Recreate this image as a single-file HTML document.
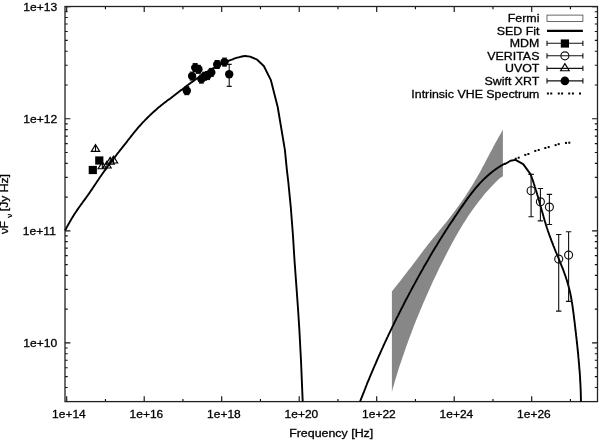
<!DOCTYPE html>
<html><head><meta charset="utf-8"><title>SED</title>
<style>html,body{margin:0;padding:0;background:#fff}svg{display:block}text{font-family:"Liberation Sans",sans-serif;fill:#000}</style></head><body>
<svg width="600" height="440" viewBox="0 0 600 440">
<rect width="600" height="440" fill="#fff"/>
<polygon points="391.9,291.4 393.4,289.4 395.0,287.5 396.6,285.6 398.1,283.6 399.7,281.7 401.2,279.7 402.7,277.8 404.2,275.8 405.8,273.8 407.3,271.8 408.8,269.8 410.3,267.9 411.8,265.9 413.3,263.9 414.8,261.9 416.3,259.9 417.8,257.9 419.3,255.9 420.8,254.0 422.3,252.0 423.8,250.0 425.3,248.0 426.9,246.1 428.4,244.1 429.9,242.2 431.5,240.2 433.1,238.3 434.6,236.4 436.2,234.4 437.8,232.5 439.4,230.6 440.9,228.7 442.5,226.7 444.1,224.8 445.6,222.9 447.2,221.0 448.7,219.0 450.3,217.1 451.8,215.1 453.3,213.1 454.8,211.1 456.3,209.1 457.7,207.1 459.2,205.1 460.6,203.1 462.0,201.1 463.4,199.0 464.8,197.0 466.2,194.9 467.5,192.8 468.9,190.7 470.2,188.6 471.5,186.5 472.8,184.4 474.1,182.3 475.3,180.1 476.6,178.0 477.8,175.8 479.0,173.7 480.3,171.5 481.5,169.3 482.6,167.1 483.8,164.9 485.0,162.7 486.1,160.5 487.3,158.3 488.5,156.1 489.6,153.8 490.8,151.6 492.0,149.4 493.1,147.2 494.3,145.0 495.5,142.8 496.7,140.7 497.9,138.5 499.1,136.3 500.4,134.2 501.6,132.0 502.9,129.9 502.9,176.2 500.1,177.9 497.9,180.1 495.6,182.3 493.5,184.5 491.3,186.7 489.2,189.0 487.1,191.3 485.1,193.6 483.1,196.0 481.2,198.4 479.3,200.8 477.4,203.3 475.5,205.7 473.7,208.2 471.9,210.7 470.2,213.3 468.4,215.8 466.7,218.4 465.1,221.0 463.4,223.6 461.8,226.3 460.2,228.9 458.6,231.6 457.1,234.3 455.5,237.0 454.0,239.7 452.5,242.4 451.1,245.1 449.6,247.9 448.2,250.6 446.7,253.4 445.3,256.2 443.9,258.9 442.5,261.7 441.1,264.5 439.7,267.3 438.4,270.1 437.0,272.9 435.7,275.7 434.4,278.5 433.0,281.3 431.7,284.2 430.4,287.0 429.2,289.8 427.9,292.7 426.6,295.5 425.4,298.4 424.1,301.2 422.9,304.1 421.7,306.9 420.5,309.8 419.3,312.7 418.1,315.6 416.9,318.4 415.8,321.3 414.6,324.2 413.5,327.1 412.4,330.0 411.3,332.9 410.2,335.8 409.1,338.7 408.0,341.7 407.0,344.6 405.9,347.5 404.9,350.4 403.9,353.4 402.9,356.3 401.9,359.2 400.9,362.2 399.9,365.1 398.9,368.1 398.0,371.0 397.1,374.0 396.2,377.0 395.2,379.9 394.4,382.9 393.5,385.9 392.6,388.8 391.9,392.6" fill="#878787"/>
<path d="M66.70 401.6v-5.4M66.70 6.5v5.4M105.45 401.6v-2.7M105.45 6.5v2.7M144.20 401.6v-5.4M144.20 6.5v5.4M182.95 401.6v-2.7M182.95 6.5v2.7M221.70 401.6v-5.4M221.70 6.5v5.4M260.45 401.6v-2.7M260.45 6.5v2.7M299.20 401.6v-5.4M299.20 6.5v5.4M337.95 401.6v-2.7M337.95 6.5v2.7M376.70 401.6v-5.4M376.70 6.5v5.4M415.45 401.6v-2.7M415.45 6.5v2.7M454.20 401.6v-5.4M454.20 6.5v5.4M492.95 401.6v-2.7M492.95 6.5v2.7M531.70 401.6v-5.4M531.70 6.5v5.4M570.45 401.6v-2.7M570.45 6.5v2.7M65.0 401.51h2.7M597.5 401.51h-2.7M65.0 387.51h2.7M597.5 387.51h-2.7M65.0 376.65h2.7M597.5 376.65h-2.7M65.0 367.77h2.7M597.5 367.77h-2.7M65.0 360.26h2.7M597.5 360.26h-2.7M65.0 353.76h2.7M597.5 353.76h-2.7M65.0 348.03h2.7M597.5 348.03h-2.7M65.0 342.90h5.4M597.5 342.90h-5.4M65.0 309.15h2.7M597.5 309.15h-2.7M65.0 289.41h2.7M597.5 289.41h-2.7M65.0 275.41h2.7M597.5 275.41h-2.7M65.0 264.55h2.7M597.5 264.55h-2.7M65.0 255.67h2.7M597.5 255.67h-2.7M65.0 248.16h2.7M597.5 248.16h-2.7M65.0 241.66h2.7M597.5 241.66h-2.7M65.0 235.93h2.7M597.5 235.93h-2.7M65.0 230.80h5.4M597.5 230.80h-5.4M65.0 197.05h2.7M597.5 197.05h-2.7M65.0 177.31h2.7M597.5 177.31h-2.7M65.0 163.31h2.7M597.5 163.31h-2.7M65.0 152.45h2.7M597.5 152.45h-2.7M65.0 143.57h2.7M597.5 143.57h-2.7M65.0 136.06h2.7M597.5 136.06h-2.7M65.0 129.56h2.7M597.5 129.56h-2.7M65.0 123.83h2.7M597.5 123.83h-2.7M65.0 118.70h5.4M597.5 118.70h-5.4M65.0 84.95h2.7M597.5 84.95h-2.7M65.0 65.21h2.7M597.5 65.21h-2.7M65.0 51.21h2.7M597.5 51.21h-2.7M65.0 40.35h2.7M597.5 40.35h-2.7M65.0 31.47h2.7M597.5 31.47h-2.7M65.0 23.96h2.7M597.5 23.96h-2.7M65.0 17.46h2.7M597.5 17.46h-2.7M65.0 11.73h2.7M597.5 11.73h-2.7M65.0 6.60h5.4M597.5 6.60h-5.4" stroke="#111" stroke-width="1.15" fill="none"/>
<rect x="65.0" y="6.5" width="532.5" height="395.1" fill="none" stroke="#222" stroke-width="1.3"/>
<text transform="translate(57.2,347.0) scale(1.07,1)" font-size="11.3" text-anchor="end" stroke="#000" stroke-width="0.3">1e+10</text>
<text transform="translate(55.9,234.9) scale(1.07,1)" font-size="11.3" text-anchor="end" stroke="#000" stroke-width="0.3">1e+11</text>
<text transform="translate(57.2,122.8) scale(1.07,1)" font-size="11.3" text-anchor="end" stroke="#000" stroke-width="0.3">1e+12</text>
<text transform="translate(57.2,10.7) scale(1.07,1)" font-size="11.3" text-anchor="end" stroke="#000" stroke-width="0.3">1e+13</text>
<text transform="translate(68.9,418.1) scale(1.06,1)" font-size="11.3" text-anchor="middle" stroke="#000" stroke-width="0.3">1e+14</text>
<text transform="translate(146.4,418.1) scale(1.06,1)" font-size="11.3" text-anchor="middle" stroke="#000" stroke-width="0.3">1e+16</text>
<text transform="translate(223.9,418.1) scale(1.06,1)" font-size="11.3" text-anchor="middle" stroke="#000" stroke-width="0.3">1e+18</text>
<text transform="translate(301.4,418.1) scale(1.06,1)" font-size="11.3" text-anchor="middle" stroke="#000" stroke-width="0.3">1e+20</text>
<text transform="translate(378.9,418.1) scale(1.06,1)" font-size="11.3" text-anchor="middle" stroke="#000" stroke-width="0.3">1e+22</text>
<text transform="translate(456.4,418.1) scale(1.06,1)" font-size="11.3" text-anchor="middle" stroke="#000" stroke-width="0.3">1e+24</text>
<text transform="translate(533.9,418.1) scale(1.06,1)" font-size="11.3" text-anchor="middle" stroke="#000" stroke-width="0.3">1e+26</text>
<text transform="translate(331.2,437.2) scale(1.1,1)" font-size="11.3" text-anchor="middle" stroke="#000" stroke-width="0.3">Frequency [Hz]</text>
<text transform="translate(8.2,234.0) rotate(-90) scale(1.15,1)" font-size="10.2" stroke="#000" stroke-width="0.3">νF</text>
<text transform="translate(11.5,217.8) rotate(-90) scale(1.1,1)" font-size="7.2" stroke="#000" stroke-width="0.3">ν</text>
<text transform="translate(8.2,211.2) rotate(-90) scale(1.19,1)" font-size="10.2" stroke="#000" stroke-width="0.3">[Jy Hz]</text>
<path d="M65.1 230.4L65.9 229.0L66.6 227.6L67.4 226.1L68.2 224.7L69.0 223.3L69.8 221.9L70.6 220.5L71.4 219.1L72.2 217.7L73.1 216.4L73.9 215.0L74.8 213.6L75.7 212.3L76.6 210.9L77.5 209.6L78.4 208.3L79.3 207.0L80.3 205.7L81.2 204.3L82.2 203.0L83.1 201.7L84.1 200.4L85.0 199.1L86.0 197.8L86.9 196.5L87.9 195.2L88.8 193.9L89.7 192.6L90.6 191.2L91.5 189.9L92.4 188.6L93.3 187.2L94.2 185.9L95.1 184.5L96.0 183.2L96.9 181.8L97.8 180.5L98.7 179.2L99.6 177.8L100.5 176.5L101.4 175.2L102.4 173.8L103.3 172.5L104.2 171.2L105.2 169.9L106.1 168.6L107.1 167.3L108.0 166.0L109.0 164.7L110.0 163.4L110.9 162.2L111.9 160.9L112.9 159.6L113.9 158.3L114.9 157.1L115.8 155.8L116.8 154.5L117.8 153.2L118.8 152.0L119.8 150.7L120.8 149.4L121.8 148.2L122.8 146.9L123.8 145.6L124.8 144.3L125.8 143.1L126.8 141.8L127.8 140.5L128.8 139.2L129.8 138.0L130.8 136.7L131.8 135.4L132.8 134.2L133.8 132.9L134.8 131.7L135.9 130.4L136.9 129.2L137.9 127.9L139.0 126.7L140.1 125.5L141.1 124.3L142.2 123.1L143.3 121.9L144.4 120.8L145.5 119.6L146.7 118.5L147.8 117.3L149.0 116.2L150.1 115.1L151.3 114.0L152.5 112.9L153.7 111.8L154.9 110.7L156.1 109.7L157.3 108.6L158.5 107.6L159.8 106.6L161.0 105.5L162.3 104.5L163.5 103.5L164.8 102.5L166.1 101.6L167.4 100.6L168.7 99.6L170.0 98.7L171.3 97.7L172.5 96.7L173.8 95.8L175.1 94.8L176.4 93.8L177.7 92.8L179.0 91.8L180.2 90.8L181.5 89.9L182.8 88.9L184.1 87.9L185.4 86.9L186.6 85.9L187.9 85.0L189.2 84.0L190.5 83.1L191.8 82.1L193.2 81.2L194.5 80.2L195.8 79.3L197.1 78.4L198.5 77.5L199.8 76.6L201.1 75.7L202.5 74.8L203.9 73.9L205.2 73.1L206.6 72.2L208.0 71.4L209.4 70.6L210.7 69.7L212.1 68.9L213.6 68.1L215.0 67.4L216.4 66.6L217.8 65.9L219.3 65.1L220.7 64.4L222.2 63.7L223.6 63.0L225.1 62.3L226.6 61.7L228.1 61.1L229.6 60.4L231.1 59.8L232.6 59.3L234.1 58.7L235.6 58.2L237.2 57.7L238.7 57.3L240.3 56.9L241.8 56.5L243.4 56.2L245.0 55.9L245.0 56.0L250.1 56.6L256.9 59.5L263.8 66.0L270.9 80.2L277.7 107.0L284.9 149.8L286.8 169.1L288.3 182.0L290.8 207.3L292.9 234.5L294.6 261.8L296.6 289.1L298.1 310.0L299.3 328.6L301.0 360.5L302.7 401.6M360.1 401.5L360.7 399.9L361.4 398.2L362.0 396.6L362.7 394.9L363.3 393.3L364.0 391.6L364.6 390.0L365.3 388.3L365.9 386.7L366.6 385.0L367.2 383.4L367.9 381.7L368.6 380.1L369.3 378.5L369.9 376.8L370.6 375.2L371.3 373.6L372.0 371.9L372.7 370.3L373.4 368.7L374.1 367.0L374.8 365.4L375.5 363.8L376.2 362.1L376.9 360.5L377.6 358.9L378.3 357.3L379.0 355.6L379.8 354.0L380.5 352.4L381.2 350.8L381.9 349.2L382.7 347.6L383.4 345.9L384.1 344.3L384.9 342.7L385.6 341.1L386.4 339.5L387.1 337.9L387.9 336.3L388.6 334.7L389.4 333.1L390.2 331.5L390.9 329.9L391.7 328.3L392.5 326.7L393.3 325.1L394.0 323.5L394.8 321.9L395.6 320.3L396.4 318.7L397.2 317.1L398.0 315.6L398.8 314.0L399.6 312.4L400.4 310.8L401.2 309.2L402.0 307.6L402.8 306.1L403.6 304.5L404.4 302.9L405.2 301.3L406.0 299.8L406.9 298.2L407.7 296.6L408.5 295.1L409.3 293.5L410.2 291.9L411.0 290.4L411.8 288.8L412.7 287.2L413.5 285.7L414.4 284.1L415.2 282.6L416.1 281.0L416.9 279.5L417.8 277.9L418.6 276.4L419.5 274.8L420.4 273.3L421.2 271.7L422.1 270.2L423.0 268.6L423.8 267.1L424.7 265.6L425.6 264.0L426.5 262.5L427.4 260.9L428.3 259.4L429.1 257.9L430.0 256.4L430.9 254.8L431.8 253.3L432.7 251.8L433.6 250.3L434.5 248.7L435.4 247.2L436.4 245.7L437.3 244.2L438.2 242.7L439.1 241.2L440.0 239.7L441.0 238.2L441.9 236.7L442.9 235.2L443.8 233.7L444.8 232.2L445.7 230.7L446.7 229.2L447.7 227.7L448.6 226.3L449.6 224.8L450.6 223.3L451.6 221.8L452.6 220.4L453.6 218.9L454.5 217.4L455.5 215.9L456.5 214.5L457.5 213.0L458.5 211.5L459.5 210.0L460.5 208.5L461.5 207.1L462.6 205.6L463.6 204.1L464.6 202.7L465.6 201.2L466.7 199.8L467.7 198.3L468.8 196.9L469.8 195.5L470.9 194.1L472.0 192.7L473.1 191.3L474.2 189.9L475.3 188.5L476.5 187.2L477.6 185.8L478.8 184.5L480.0 183.2L481.2 181.9L482.4 180.7L483.6 179.4L484.9 178.2L486.2 177.0L487.5 175.8L488.8 174.7L490.1 173.5L491.5 172.4L492.9 171.3L494.3 170.3L495.7 169.2L497.1 168.2L498.6 167.3L500.1 166.3L501.7 165.4L503.2 164.5L504.8 163.7L505.0 164.0L510.5 160.8L515.5 159.9L523.2 164.1L530.5 174.1L530.4 174.1L531.0 175.5L531.5 176.9L532.0 178.3L532.5 179.7L533.0 181.0L533.5 182.4L533.9 183.8L534.4 185.2L534.8 186.7L535.3 188.1L535.7 189.5L536.2 190.9L536.6 192.3L537.0 193.7L537.4 195.1L537.9 196.5L538.3 198.0L538.7 199.4L539.1 200.8L539.5 202.2L539.9 203.7L540.3 205.1L540.7 206.5L541.1 207.9L541.5 209.4L541.9 210.8L542.3 212.2L542.7 213.6L543.1 215.0L543.5 216.5L543.9 217.9L544.3 219.3L544.7 220.7L545.1 222.1L545.6 223.5L546.0 225.0L546.5 226.4L546.9 227.8L547.4 229.2L547.8 230.6L548.3 232.0L548.8 233.4L549.3 234.8L549.8 236.1L550.3 237.5L550.8 238.9L551.3 240.3L551.8 241.7L552.4 243.0L552.9 244.4L553.4 245.8L554.0 247.2L554.5 248.5L555.1 249.9L555.6 251.3L556.2 252.6L556.8 254.0L557.3 255.4L557.9 256.7L558.5 258.1L559.0 259.5L559.6 260.8L560.1 262.2L560.7 263.6L561.2 264.9L561.8 266.3L562.3 267.7L562.9 269.0L563.4 270.4L563.9 271.8L564.4 273.2L564.9 274.6L565.4 276.0L565.9 277.4L566.3 278.8L566.8 280.2L567.2 281.6L567.6 283.0L568.0 284.4L568.4 285.8L568.8 287.3L569.2 288.7L569.5 290.1L569.9 291.5L570.2 293.0L570.5 294.4L570.8 295.9L571.1 297.3L571.3 298.8L571.6 300.2L571.8 301.7L572.1 303.1L572.3 304.6L572.5 306.0L572.7 307.5L572.9 309.0L573.1 310.4L573.3 311.9L573.5 313.4L573.7 314.8L573.9 316.3L574.0 317.8L574.2 319.2L574.4 320.7L574.6 322.2L574.8 323.6L574.9 325.1L575.1 326.6L575.3 328.0L575.4 329.5L575.6 331.0L575.8 332.4L576.0 333.9L576.1 335.4L576.3 336.8L576.5 338.3L576.6 339.8L576.8 341.2L576.9 342.7L577.1 344.2L577.3 345.6L577.4 347.1L577.6 348.6L577.7 350.0L577.9 351.5L578.0 353.0L578.2 354.4L578.3 355.9L578.4 357.4L578.6 358.8L578.7 360.3L578.8 361.8L579.0 363.3L579.1 364.7L579.2 366.2L579.3 367.7L579.4 369.1L579.6 370.6L579.7 372.1L579.8 373.6L579.9 375.0L580.0 376.5L580.1 378.0L580.1 379.4L580.2 380.9L580.3 382.4L580.4 383.9L580.5 385.3L580.5 386.8L580.6 388.3L580.7 389.8L580.7 391.3L580.8 392.7L580.8 394.2L580.8 395.7L580.9 397.2L580.9 398.6L580.9 400.1L580.9 401.6" stroke="#000" stroke-width="1.9" fill="none" stroke-linejoin="round"/>
<rect x="514.7" y="157.7" width="2" height="2" fill="#000"/>
<rect x="517.7" y="156.7" width="2" height="2" fill="#000"/>
<rect x="524.3" y="153.9" width="2" height="2" fill="#000"/>
<rect x="527.4" y="153.0" width="2" height="2" fill="#000"/>
<rect x="534.3" y="149.9" width="2" height="2" fill="#000"/>
<rect x="537.7" y="149.0" width="2" height="2" fill="#000"/>
<rect x="544.3" y="147.0" width="2" height="2" fill="#000"/>
<rect x="547.7" y="146.1" width="2" height="2" fill="#000"/>
<rect x="554.6" y="144.1" width="2" height="2" fill="#000"/>
<rect x="557.7" y="143.1" width="2" height="2" fill="#000"/>
<rect x="565.0" y="141.9" width="2" height="2" fill="#000"/>
<rect x="568.3" y="141.7" width="2" height="2" fill="#000"/>
<path d="M531.1 174.4V216.8M528.4 174.4h5.4M528.4 216.8h5.4" stroke="#111" stroke-width="1.1" fill="none"/>
<circle cx="531.1" cy="190.7" r="4" fill="none" stroke="#111" stroke-width="1.15"/>
<path d="M540.4 188.5V220.9M537.6999999999999 188.5h5.4M537.6999999999999 220.9h5.4" stroke="#111" stroke-width="1.1" fill="none"/>
<circle cx="540.4" cy="201.8" r="4" fill="none" stroke="#111" stroke-width="1.15"/>
<path d="M549.4 194.4V224.5M546.6999999999999 194.4h5.4M546.6999999999999 224.5h5.4" stroke="#111" stroke-width="1.1" fill="none"/>
<circle cx="549.4" cy="207.1" r="4" fill="none" stroke="#111" stroke-width="1.15"/>
<path d="M558.7 234.5V311.1M556.0 234.5h5.4M556.0 311.1h5.4" stroke="#111" stroke-width="1.1" fill="none"/>
<circle cx="558.7" cy="259.1" r="4" fill="none" stroke="#111" stroke-width="1.15"/>
<path d="M568.6 231.8V301.4M565.9 231.8h5.4M565.9 301.4h5.4" stroke="#111" stroke-width="1.1" fill="none"/>
<circle cx="568.6" cy="255.1" r="4" fill="none" stroke="#111" stroke-width="1.15"/>
<circle cx="186.8" cy="90.7" r="4.2" fill="#000"/><path d="M184.3 86.7h5M184.3 94.7h5" stroke="#000" stroke-width="1"/>
<circle cx="192.1" cy="76.1" r="4.2" fill="#000"/><path d="M189.6 72.1h5M189.6 80.1h5" stroke="#000" stroke-width="1"/>
<circle cx="195.2" cy="67.6" r="4.2" fill="#000"/><path d="M192.7 63.6h5M192.7 71.6h5" stroke="#000" stroke-width="1"/>
<circle cx="198.4" cy="69.3" r="4.2" fill="#000"/><path d="M195.9 65.3h5M195.9 73.3h5" stroke="#000" stroke-width="1"/>
<circle cx="201.4" cy="79.1" r="4.2" fill="#000"/><path d="M198.9 75.1h5M198.9 83.1h5" stroke="#000" stroke-width="1"/>
<circle cx="204.5" cy="76.2" r="4.2" fill="#000"/><path d="M202.0 72.2h5M202.0 80.2h5" stroke="#000" stroke-width="1"/>
<circle cx="207.5" cy="75.6" r="4.2" fill="#000"/><path d="M205.0 71.6h5M205.0 79.6h5" stroke="#000" stroke-width="1"/>
<circle cx="211.3" cy="72.4" r="4.2" fill="#000"/><path d="M208.8 68.4h5M208.8 76.4h5" stroke="#000" stroke-width="1"/>
<circle cx="217.2" cy="64.5" r="4.2" fill="#000"/><path d="M214.7 60.5h5M214.7 68.5h5" stroke="#000" stroke-width="1"/>
<circle cx="224.5" cy="62.1" r="4.2" fill="#000"/><path d="M222.0 58.1h5M222.0 66.1h5" stroke="#000" stroke-width="1"/>
<path d="M229.2 64.4V86.4M226.7 64.4h5.0M226.7 86.4h5.0" stroke="#111" stroke-width="1.1" fill="none"/>
<circle cx="229.2" cy="74.2" r="4.2" fill="#000"/>
<rect x="88.7" y="165.9" width="8.2" height="8.2" fill="#000"/>
<rect x="95.2" y="156.4" width="8.2" height="8.2" fill="#000"/>
<path d="M95.5 144.6L99.7 151.39999999999998H91.3Z" fill="none" stroke="#000" stroke-width="1.15"/><path d="M95.5 144.6V151.39999999999998" stroke="#000" stroke-width="1.1"/>
<path d="M102.3 161.9L106.5 168.7H98.1Z" fill="none" stroke="#000" stroke-width="1.15"/><path d="M102.3 161.9V168.7" stroke="#000" stroke-width="1.1"/>
<path d="M107 161.20000000000002L111.2 168.0H102.8Z" fill="none" stroke="#000" stroke-width="1.15"/><path d="M107 161.20000000000002V168.0" stroke="#000" stroke-width="1.1"/>
<path d="M110.2 157.4L114.4 164.2H106.0Z" fill="none" stroke="#000" stroke-width="1.15"/><path d="M110.2 157.4V164.2" stroke="#000" stroke-width="1.1"/>
<path d="M113.5 156.20000000000002L117.7 163.0H109.3Z" fill="none" stroke="#000" stroke-width="1.15"/><path d="M113.5 156.20000000000002V163.0" stroke="#000" stroke-width="1.1"/>
<text transform="translate(539.4,22.2) scale(1.06,1)" font-size="11.7" text-anchor="end" stroke="#000" stroke-width="0.3">Fermi</text>
<text transform="translate(539.4,34.8) scale(1.06,1)" font-size="11.7" text-anchor="end" stroke="#000" stroke-width="0.3">SED Fit</text>
<text transform="translate(539.4,47.2) scale(1.06,1)" font-size="11.7" text-anchor="end" stroke="#000" stroke-width="0.3">MDM</text>
<text transform="translate(539.4,59.8) scale(1.06,1)" font-size="11.7" text-anchor="end" stroke="#000" stroke-width="0.3">VERITAS</text>
<text transform="translate(539.4,72.4) scale(1.06,1)" font-size="11.7" text-anchor="end" stroke="#000" stroke-width="0.3">UVOT</text>
<text transform="translate(539.4,84.9) scale(1.06,1)" font-size="11.7" text-anchor="end" stroke="#000" stroke-width="0.3">Swift XRT</text>
<text transform="translate(539.4,97.5) scale(1.06,1)" font-size="11.7" text-anchor="end" stroke="#000" stroke-width="0.3">Intrinsic VHE Spectrum</text>
<rect x="547.0" y="15.1" width="35.9" height="6.3" fill="#fff" stroke="#444" stroke-width="0.8"/>
<path d="M547.0 30.8H582.9" stroke="#000" stroke-width="2.2"/>
<path d="M547.0 43.3H582.9M547.0 40.699999999999996v5.2M582.9 40.699999999999996v5.2" stroke="#111" stroke-width="1.1" fill="none"/>
<rect x="560.8" y="39.4" width="8.2" height="8.2" fill="#000"/>
<path d="M547.0 55.8H582.9M547.0 53.199999999999996v5.2M582.9 53.199999999999996v5.2" stroke="#111" stroke-width="1.1" fill="none"/>
<circle cx="564.9" cy="55.8" r="4" fill="none" stroke="#111" stroke-width="1.15"/>
<path d="M547.0 68.4H582.9M547.0 65.80000000000001v5.2M582.9 65.80000000000001v5.2" stroke="#111" stroke-width="1.1" fill="none"/>
<path d="M564.9 63.60000000000001L569.1999999999999 70.7H560.6Z" fill="none" stroke="#000" stroke-width="1.15"/>
<path d="M547.0 80.9H582.9M547.0 78.30000000000001v5.2M582.9 78.30000000000001v5.2" stroke="#111" stroke-width="1.1" fill="none"/>
<circle cx="564.9" cy="80.9" r="4.3" fill="#000"/>
<rect x="546.90" y="92.5" width="2" height="2" fill="#000"/>
<rect x="550.25" y="92.5" width="2" height="2" fill="#000"/>
<rect x="557.75" y="92.5" width="2" height="2" fill="#000"/>
<rect x="561.10" y="92.5" width="2" height="2" fill="#000"/>
<rect x="568.20" y="92.5" width="2" height="2" fill="#000"/>
<rect x="571.90" y="92.5" width="2" height="2" fill="#000"/>
<rect x="579.00" y="92.5" width="2" height="2" fill="#000"/>
</svg></body></html>
